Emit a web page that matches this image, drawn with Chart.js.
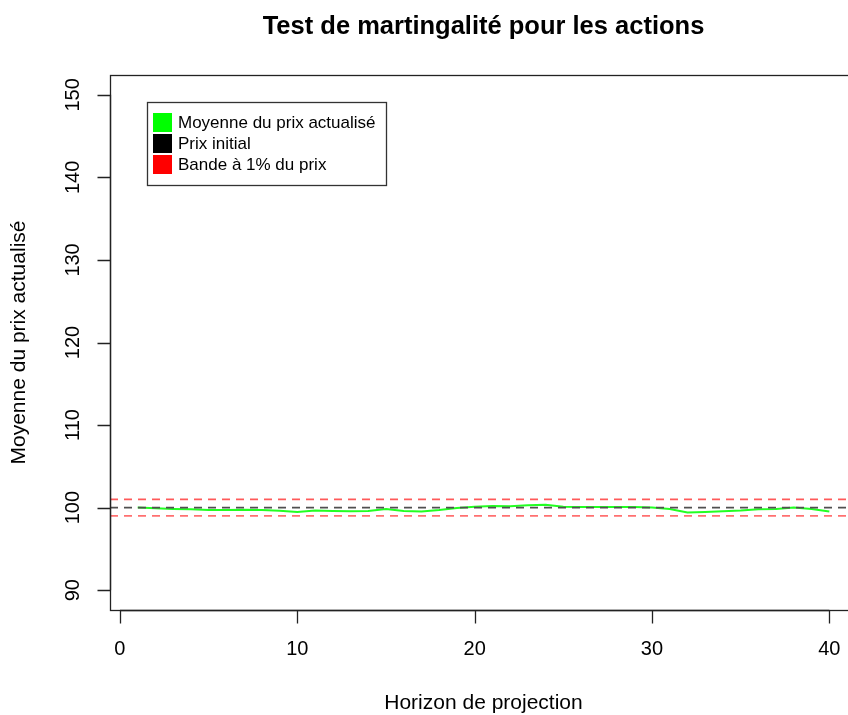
<!DOCTYPE html>
<html lang="fr">
<head>
<meta charset="UTF-8">
<title>Test de martingalité</title>
<script src="https://cdn.jsdelivr.net/npm/chart.js"></script>
<style>
html, body { margin: 0; padding: 0; background: #fff; overflow: hidden; }
#chart { display: block; }
</style>
</head>
<body>
<canvas id="chart" width="866" height="715"></canvas>
<script>
// horizon de projection (années)
var horizons = [1, 2, 3, 4, 5, 6, 7, 8, 9, 10, 11, 12, 13, 14, 15, 16, 17, 18, 19, 20,
                21, 22, 23, 24, 25, 26, 27, 28, 29, 30, 31, 32, 33, 34, 35, 36, 37, 38, 39, 40];
// moyenne du prix actualisé
var moyennePrix = [100.00, 99.92, 99.84, 99.80, 99.72, 99.70, 99.74, 99.70, 99.62, 99.47,
                   99.64, 99.58, 99.56, 99.60, 99.84, 99.60, 99.53, 99.70, 99.94, 100.12,
                   100.20, 100.16, 100.28, 100.36, 100.12, 100.08, 100.08, 100.08, 100.08, 100.00,
                   99.84, 99.40, 99.48, 99.56, 99.64, 99.80, 99.84, 100.00, 99.84, 99.52];
var prixInitial = 100;
var bandeHaute = 101;
var bandeBasse = 99;
var xTicks = [0, 10, 20, 30, 40];
var yTicks = [90, 100, 110, 120, 130, 140, 150];

var legendItems = [
    { text: 'Moyenne du prix actualisé', color: '#00ff00' },
    { text: 'Prix initial', color: '#000000' },
    { text: 'Bande à 1% du prix', color: '#ff0000' }
];

var xMin = -0.56, xMax = 41.56;
var yMin = 87.6, yMax = 152.4;
var FONT = '"Liberation Sans", Arial, Helvetica, sans-serif';

function hLine(v) {
    return [{ x: xMin, y: v }, { x: xMax, y: v }];
}

var rPlot = {
    id: 'rPlot',
    beforeDraw: function (chart) {
        var ctx = chart.ctx;
        ctx.save();
        ctx.fillStyle = '#ffffff';
        ctx.fillRect(0, 0, chart.width, chart.height);
        ctx.restore();
    },
    afterDraw: function (chart) {
        var ctx = chart.ctx;
        var a = chart.chartArea;
        var xs = chart.scales.x, ys = chart.scales.y;
        ctx.save();
        ctx.strokeStyle = '#222';
        ctx.lineWidth = 1.3;
        ctx.fillStyle = '#000';

        // box
        ctx.strokeRect(Math.round(a.left) + 0.5, Math.round(a.top) + 0.5,
            Math.round(a.right - a.left), Math.round(a.bottom - a.top));

        // x axis
        var yb = Math.round(a.bottom) + 0.5;
        var x0 = xs.getPixelForValue(xTicks[0]), x1 = xs.getPixelForValue(xTicks[xTicks.length - 1]);
        ctx.beginPath();
        ctx.moveTo(x0, yb); ctx.lineTo(x1, yb);
        xTicks.forEach(function (t) {
            var px = Math.round(xs.getPixelForValue(t)) + 0.5;
            ctx.moveTo(px, yb); ctx.lineTo(px, yb + 13);
        });
        ctx.stroke();
        ctx.font = '20px ' + FONT;
        ctx.textAlign = 'center';
        ctx.textBaseline = 'middle';
        xTicks.forEach(function (t) {
            ctx.fillText(String(t), xs.getPixelForValue(t), 649);
        });

        // y axis
        var xl = Math.round(a.left) + 0.5;
        var y0 = ys.getPixelForValue(yTicks[0]), y1 = ys.getPixelForValue(yTicks[yTicks.length - 1]);
        ctx.beginPath();
        ctx.moveTo(xl, y0); ctx.lineTo(xl, y1);
        yTicks.forEach(function (t) {
            var py = Math.round(ys.getPixelForValue(t)) + 0.5;
            ctx.moveTo(xl, py); ctx.lineTo(xl - 13, py);
        });
        ctx.stroke();
        yTicks.forEach(function (t) {
            ctx.save();
            ctx.translate(73, ys.getPixelForValue(t));
            ctx.rotate(-Math.PI / 2);
            ctx.fillText(String(t), 0, 0);
            ctx.restore();
        });

        // axis titles
        var cx = (a.left + a.right) / 2;
        ctx.font = '21px ' + FONT;
        ctx.fillText('Horizon de projection', cx, 703);
        ctx.save();
        ctx.translate(19, (a.top + a.bottom) / 2);
        ctx.rotate(-Math.PI / 2);
        ctx.fillText('Moyenne du prix actualisé', 0, 0);
        ctx.restore();

        // title
        ctx.font = 'bold 25.5px ' + FONT;
        ctx.fillText('Test de martingalité pour les actions', cx, 27);

        // legend
        ctx.strokeStyle = '#333';
        ctx.lineWidth = 1.3;
        ctx.strokeRect(147.5, 102.5, 239, 83);
        ctx.font = '17px ' + FONT;
        ctx.textAlign = 'left';
        legendItems.forEach(function (item, i) {
            var top = 113 + i * 21;
            ctx.fillStyle = item.color;
            ctx.fillRect(153, top, 19, 19);
            ctx.fillStyle = '#000';
            ctx.fillText(item.text, 178, top + 10);
        });
        ctx.restore();
    }
};

new Chart(document.getElementById('chart').getContext('2d'), {
    type: 'line',
    data: {
        datasets: [
            {
                label: 'Prix initial',
                data: hLine(prixInitial),
                borderColor: '#505050',
                borderWidth: 1.6,
                borderDash: [8, 6],
                pointRadius: 0,
                order: 0
            },
            {
                label: 'Bande haute',
                data: hLine(bandeHaute),
                borderColor: '#ff5a5a',
                borderWidth: 1.6,
                borderDash: [8, 6],
                pointRadius: 0,
                order: 0
            },
            {
                label: 'Bande basse',
                data: hLine(bandeBasse),
                borderColor: '#ff7070',
                borderWidth: 1.6,
                borderDash: [8, 6],
                pointRadius: 0,
                order: 0
            },
            {
                label: 'Moyenne du prix actualisé',
                data: horizons.map(function (h, i) { return { x: h, y: moyennePrix[i] }; }),
                borderColor: '#22ff22',
                borderWidth: 2,
                tension: 0,
                pointRadius: 0,
                order: 1
            }
        ]
    },
    options: {
        responsive: false,
        animation: false,
        devicePixelRatio: 1,
        layout: { padding: { left: 110, top: 75, right: 9, bottom: 105 } },
        scales: {
            x: { type: 'linear', min: xMin, max: xMax, display: false },
            y: { type: 'linear', min: yMin, max: yMax, display: false }
        },
        plugins: {
            legend: { display: false },
            tooltip: { enabled: false },
            title: { display: false }
        }
    },
    plugins: [rPlot]
});
</script>
</body>
</html>
